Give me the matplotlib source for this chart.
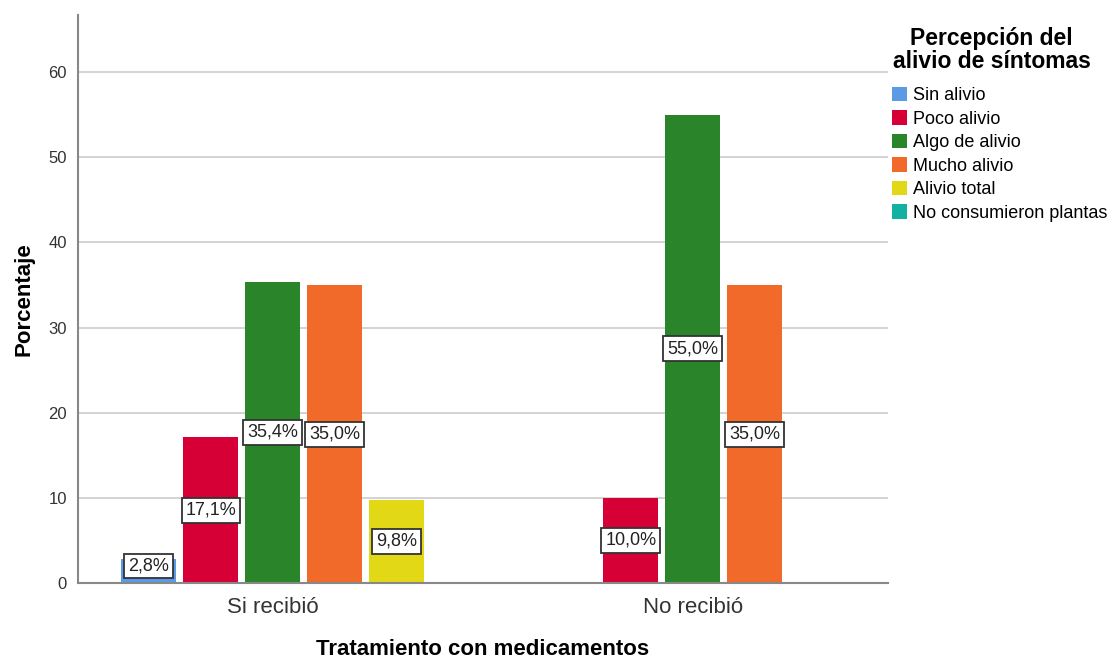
import matplotlib
matplotlib.use("Agg")
import matplotlib.pyplot as plt
from matplotlib.patches import Patch
import numpy as np

plt.rcParams['font.family'] = ['Liberation Sans', 'DejaVu Sans']

# data
groups = ['Si recibió', 'No recibió']
categories = ['Sin alivio', 'Poco alivio', 'Algo de alivio', 'Mucho alivio',
              'Alivio total', 'No consumieron plantas']
si_recibio = [2.8, 17.1, 35.4, 35.0, 9.8, 0.0]
no_recibio = [0.0, 10.0, 55.0, 35.0, 0.0, 0.0]
colors = ['#5b9be6', '#d60036', '#2a852a', '#f26a2a', '#e3d815', '#14b1a0']

fig = plt.figure(figsize=(11.14, 6.61), dpi=100)
ax = fig.add_axes([0.070, 0.118, 0.727, 0.859])

bar_w = 0.131
step = 0.1476

for gi, vals in enumerate([si_recibio, no_recibio]):
    # SPSS skips empty categories, so the cluster only holds the non-zero bars
    present = [i for i, v in enumerate(vals) if v > 0]
    n = len(present)
    for k, ci in enumerate(present):
        x = gi + (k - (n - 1) / 2) * step
        v = vals[ci]
        ax.bar(x, v, width=bar_w, color=colors[ci], zorder=2)
        ax.text(x, max(v / 2, 2.0), f"{v:.1f}%".replace('.', ','),
                ha='center', va='center', fontsize=13, color='#222222', zorder=3,
                bbox=dict(boxstyle='square,pad=0.22', fc='white', ec='#333333', lw=1.3))

ax.set_xlim(-0.464, 1.464)
ax.set_ylim(0, 66.7)
ax.set_xticks([0, 1])
ax.set_xticklabels(groups, fontsize=16, color='#333333')
ax.tick_params(axis='x', length=0, pad=10)
ax.set_yticks(range(0, 61, 10))
ax.tick_params(axis='y', labelsize=12, labelcolor='#333333', length=0, pad=8)
ax.yaxis.grid(True, color='#cccccc', lw=1.2, zorder=0)
ax.set_axisbelow(True)
for s in ['top', 'right']:
    ax.spines[s].set_visible(False)
for s in ['left', 'bottom']:
    ax.spines[s].set_color('#888888')
    ax.spines[s].set_linewidth(1.5)

ax.set_xlabel('Tratamiento con medicamentos', fontsize=16, fontweight='bold', labelpad=15)
ax.set_ylabel('Porcentaje', fontsize=16, fontweight='bold', labelpad=10)

# legend title drawn on its own so it can sit centred above the entries
fig.text(0.890, 1 - 50 / 661, 'Percepción del\nalivio de síntomas', ha='center', va='center',
         multialignment='center', fontsize=16.5, fontweight='bold', linespacing=1.05)

handles = [Patch(facecolor=c, edgecolor='none') for c in colors]
fig.legend(handles, categories, loc='upper left', bbox_to_anchor=(0.801, 1 - 87 / 661),
           frameon=False, fontsize=13, handlelength=0.83, handleheight=0.83,
           handletextpad=0.3, labelspacing=0.34, borderaxespad=0, borderpad=0)

plt.savefig('out.png', dpi=100)
